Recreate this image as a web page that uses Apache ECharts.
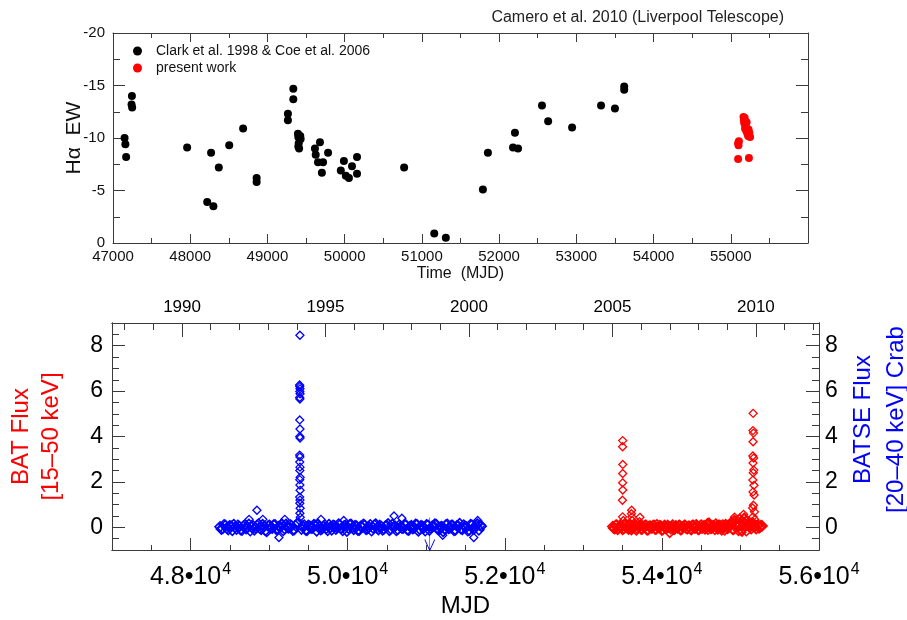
<!DOCTYPE html>
<html>
<head>
<meta charset="utf-8">
<title>Halpha EW and hard X-ray history</title>
<script src="https://cdn.jsdelivr.net/npm/echarts@6/dist/echarts.min.js"></script>
<style>
  html, body { margin: 0; padding: 0; background: #fff; }
  #chart { width: 907px; height: 620px; }
</style>
</head>
<body>
<div id="chart"></div>
<script>
// Top panel: H-alpha equivalent width (MJD, EW)
const clarkCoeEW = [
  [47150, -10.0], [47160, -9.4], [47170, -8.2], [47245, -14.0], [47240, -13.2], [47248, -12.9],
  [47960, -9.1], [48220, -3.9], [48270, -8.6], [48300, -3.5], [48370, -7.2], [48505, -9.3],
  [48685, -10.9], [48860, -6.2], [48860, -5.8],
  [49265, -12.3], [49265, -11.7], [49335, -14.7], [49335, -13.7],
  [49395, -10.4], [49400, -10.1], [49405, -9.5], [49400, -9.2], [49410, -9.0], [49425, -10.2], [49430, -9.9],
  [49615, -9.0], [49625, -8.4], [49655, -7.7], [49680, -9.6], [49705, -6.7], [49720, -7.7], [49785, -8.6],
  [49950, -6.9], [49990, -7.8], [50015, -6.4], [50055, -6.2], [50095, -7.3], [50160, -8.2], [50160, -6.6],
  [50770, -7.2], [51160, -0.9], [51310, -0.5],
  [51790, -5.1], [51855, -8.6], [52180, -9.1], [52205, -10.5], [52245, -9.0],
  [52555, -13.1], [52635, -11.6], [52945, -11.0], [53320, -13.1], [53500, -12.8], [53620, -14.9], [53620, -14.6]
];
const presentWorkEW = [
  [55095, -9.5], [55100, -9.3], [55105, -9.7], [55095, -8.0],
  [55165, -12.0], [55170, -11.7], [55175, -11.4], [55180, -11.9], [55185, -10.9], [55190, -11.2],
  [55195, -11.0], [55200, -10.7], [55205, -11.5], [55215, -10.4], [55225, -10.2], [55230, -10.8],
  [55240, -10.5], [55250, -10.1], [55235, -8.1]
];

// Bottom panel: BATSE 20-40 keV (MJD, Crab)
const batseMjd = [
  48375, 48410, 48445, 48480, 48515, 48550, 48585, 48620, 48655, 48690, 48725, 48760, 48795, 48830,
  48865, 48900, 48935, 48970, 49005, 49040, 49075, 49110, 49145, 49180, 49215, 49250, 49285, 49320,
  49355, 49430, 49465, 49500, 49535, 49570, 49605, 49640, 49675, 49710, 49745, 49780, 49815, 49850,
  49885, 49920, 49955, 49990, 50025, 50060, 50095, 50130, 50165, 50200, 50235, 50270, 50305, 50340,
  50375, 50410, 50445, 50480, 50515, 50550, 50585, 50620, 50655, 50690, 50725, 50760, 50795, 50830,
  50865, 50900, 50935, 50970, 51005, 51040, 51075, 51110, 51145, 51180, 51215, 51250, 51285, 51320,
  51355, 51390, 51425, 51460, 51495, 51530, 51565, 51600, 51635, 51670, 51700
];
const batseFlux = [
  0.02, -0.05, 0.08, -0.10, 0.05, 0.12, -0.08, 0.03, -0.12, 0.10, 0.00, -0.15, 0.07, -0.03,
  0.14, -0.09, 0.04, -0.18, 0.09, -0.04, 0.11, -0.07, 0.02, -0.14, 0.13, -0.02, 0.06, -0.10,
  0.15, 0.05, -0.11, 0.08, -0.04, 0.12, -0.16, 0.03, -0.06, 0.10, -0.13, 0.01, 0.09, -0.08,
  0.14, -0.05, 0.06, -0.17, 0.11, -0.01, 0.07, -0.12, 0.04, 0.13, -0.09, 0.02, -0.15, 0.10,
  -0.03, 0.08, -0.11, 0.05, 0.15, -0.07, 0.00, -0.14, 0.09, -0.04, 0.12, -0.10, 0.03, -0.06,
  0.13, -0.16, 0.07, -0.02, 0.11, -0.12, 0.04, 0.14, -0.08, 0.01, -0.18, 0.10, -0.05, 0.08,
  -0.13, 0.06, 0.16, -0.09, 0.03, -0.15, 0.12, -0.07, 0.09, -0.11, 0.05
];
const batseMjd2 = [
  48392, 48427, 48462, 48497, 48532, 48567, 48602, 48637, 48672, 48707, 48742, 48777, 48812, 48847,
  48882, 48917, 48952, 48987, 49022, 49057, 49092, 49127, 49162, 49197, 49232, 49267, 49302, 49337,
  49372, 49412, 49447, 49482, 49517, 49552, 49587, 49622, 49657, 49692, 49727, 49762, 49797, 49832,
  49867, 49902, 49937, 49972, 50007, 50042, 50077, 50112, 50147, 50182, 50217, 50252, 50287, 50322,
  50357, 50392, 50427, 50462, 50497, 50532, 50567, 50602, 50637, 50672, 50707, 50742, 50777, 50812,
  50847, 50882, 50917, 50952, 50987, 51022, 51057, 51092, 51127, 51162, 51197, 51232, 51267, 51302,
  51337, 51372, 51407, 51442, 51477, 51512, 51547, 51582, 51617, 51652, 51685
];
const batseFlux2 = [
  -0.08, 0.11, -0.03, 0.06, -0.13, 0.01, 0.09, -0.10, 0.05, -0.06,
  0.13, 0.02, -0.11, 0.08, -0.04, 0.12, -0.14, 0.06, -0.02, 0.10,
  -0.09, 0.04, 0.14, -0.06, 0.00, 0.11, -0.12, 0.07, 0.20, -0.08,
  0.10, -0.13, 0.05, -0.02, 0.09, 0.13, -0.10, 0.04, -0.05, 0.12,
  -0.11, 0.06, -0.01, 0.10, -0.14, 0.08, -0.03, 0.13, -0.09, 0.05,
  -0.12, 0.01, 0.09, -0.06, 0.11, -0.02, 0.14, -0.10, 0.03, -0.07,
  0.08, -0.13, 0.12, 0.05, -0.09, 0.02, -0.04, 0.10, -0.12, 0.07,
  -0.01, 0.11, -0.08, 0.04, -0.15, 0.09, -0.03, 0.06, 0.12, -0.10,
  0.03, -0.07, 0.13, -0.02, 0.08, -0.11, 0.05, -0.06, 0.10, 0.01,
  -0.12, 0.09, -0.04, 0.14, 0.10
];
const batseOutburst = [
  [49392, 8.46], [49388, 6.27], [49390, 6.20], [49393, 6.10], [49391, 5.98], [49394, 5.88], [49389, 5.72],
  [49392, 5.65], [49390, 4.73], [49393, 4.33], [49391, 4.00], [49394, 3.93], [49389, 3.18], [49392, 3.10],
  [49390, 2.88], [49393, 2.65], [49391, 2.50], [49395, 2.20], [49390, 2.10], [49392, 1.86], [49394, 1.63],
  [49389, 1.33], [49393, 1.20], [49391, 1.06], [49395, 0.84], [49392, 0.62], [49396, 0.44],
  [48745, 0.35], [48845, 0.75], [48920, 0.35], [49125, -0.45], [49200, 0.35], [49660, 0.35], [49950, 0.30],
  [50590, 0.50], [50690, 0.40], [51210, -0.35], [51605, -0.45], [51655, 0.30]
];
const batseUpperLimit = [[51045, -0.29]];

// Bottom panel: Swift/BAT 15-50 keV (MJD, Crab)
const batMjd = [
  53375, 53400, 53425, 53450, 53475, 53500, 53525, 53550, 53575, 53600, 53625, 53650, 53675, 53700,
  53725, 53750, 53775, 53800, 53825, 53850, 53875, 53900, 53925, 53950, 53975, 54000, 54025, 54050,
  54075, 54100, 54125, 54150, 54175, 54200, 54225, 54250, 54275, 54300, 54325, 54350, 54375, 54400,
  54425, 54450, 54475, 54500, 54525, 54550, 54575, 54600, 54625, 54650, 54675, 54700, 54725, 54750,
  54775, 54800, 54825, 54850, 54875, 54900, 54925, 54950, 54975, 55000, 55025, 55050, 55075, 55100,
  55125, 55150, 55175, 55200, 55225, 55250, 55275
];
const batFlux = [
  0.03, -0.06, 0.10, -0.02, 0.07, -0.09, 0.12, 0.02, -0.08, 0.09, -0.04, 0.06, -0.11, 0.04,
  0.10, -0.07, 0.02, 0.08, -0.10, 0.05, -0.03, 0.09, -0.08, 0.01, 0.07, -0.12, 0.04, -0.05,
  0.08, -0.22, 0.03, -0.07, 0.06, -0.02, 0.09, -0.09, 0.02, 0.07, -0.06, 0.04, -0.10, 0.08,
  -0.03, 0.05, -0.08, 0.10, 0.01, -0.07, 0.12, 0.18, -0.05, 0.06, -0.09, 0.03, 0.08, -0.04,
  0.10, -0.11, 0.05, 0.02, 0.15, -0.08, 0.30, 0.06, -0.13, 0.10, 0.25, 0.40, -0.15, 0.12,
  0.08, 0.20, 0.05, -0.06, 0.10, 0.02, 0.06
];
const batMjd2 = [
  53387, 53412, 53437, 53462, 53487, 53512, 53537, 53562, 53587, 53612, 53637, 53662, 53687, 53712,
  53737, 53762, 53787, 53812, 53837, 53862, 53887, 53912, 53937, 53962, 53987, 54012, 54037, 54062,
  54087, 54112, 54137, 54162, 54187, 54212, 54237, 54262, 54287, 54312, 54337, 54362, 54387, 54412,
  54437, 54462, 54487, 54512, 54537, 54562, 54587, 54612, 54637, 54662, 54687, 54712, 54737, 54762,
  54787, 54812, 54837, 54862, 54887, 54912, 54937, 54962, 54987, 55012, 55037, 55062, 55087, 55112,
  55137, 55162, 55187, 55212, 55237, 55262
];
const batFlux2 = [
  -0.04, 0.08, -0.09, 0.05, 0.01, -0.06, 0.10, -0.02, 0.07, -0.10,
  0.03, 0.12, -0.05, 0.06, -0.08, 0.02, 0.09, -0.11, 0.04, -0.03,
  0.07, -0.07, 0.11, -0.01, 0.05, -0.09, 0.08, -0.04, 0.02, -0.06,
  0.10, -0.08, 0.03, 0.06, -0.10, 0.01, 0.09, -0.05, 0.04, -0.07,
  0.08, -0.02, 0.11, -0.09, 0.05, -0.04, 0.07, 0.02, -0.08, 0.10,
  -0.03, 0.06, 0.14, -0.07, 0.09, -0.11, 0.04, 0.12, -0.05, 0.08,
  0.22, -0.09, 0.11, 0.05, 0.35, -0.12, 0.18, 0.07, 0.28, 0.10,
  -0.06, 0.15, 0.04, 0.09, -0.03, 0.07
];
const batOutburst = [
  [53501, 3.82], [53500, 3.55], [53502, 2.77], [53501, 2.37], [53500, 1.96], [53502, 1.64], [53498, 1.19],
  [53500, 0.46], [53510, 0.30], [53615, 0.75], [53612, 0.60], [53618, 0.45], [53620, 0.30],
  [53720, 0.44], [53715, 0.25], [54580, 0.20], [54925, 0.45], [54930, 0.30], [55020, -0.22],
  [55040, 0.57], [55045, 0.40], [55050, 0.25],
  [55162, 5.02], [55160, 4.26], [55166, 4.15], [55161, 3.77], [55158, 3.14], [55168, 3.05], [55160, 2.83],
  [55170, 2.52], [55163, 2.40], [55158, 2.08], [55172, 1.85], [55160, 1.56], [55174, 1.42], [55165, 0.97],
  [55155, 0.85], [55178, 0.68], [55160, 0.46], [55182, 0.34], [55168, 0.20]
];

// Axis tick positions
const mjdMajorTicks = [48000, 50000, 52000, 54000, 56000];
const fluxMajorTicks = [0, 2, 4, 6, 8];
const yearLabels = ['1990', '1995', '2000', '2005', '2010'];
const yearLabelMjd = [47892, 49718, 51544, 53371, 55197];
const yearTickMjd = [
  47161, 47527, 47892, 48257, 48622, 48988, 49353, 49718, 50083, 50449, 50814, 51179, 51544,
  51910, 52275, 52640, 53005, 53371, 53736, 54101, 54466, 54832, 55197, 55562, 55927
];

const FONT = 'Liberation Sans, Arial, sans-serif';
const AXIS_COLOR = '#3a3a3a';

const chart = echarts.init(document.getElementById('chart'));

function frameAxis(extra) {
  return Object.assign({
    type: 'value',
    nameMoveOverlap: false,
    axisLine: { show: true, onZero: false, lineStyle: { color: AXIS_COLOR, width: 1 } },
    axisTick: { show: true, inside: true, length: 9, lineStyle: { color: AXIS_COLOR } },
    axisLabel: { show: false },
    splitLine: { show: false }
  }, extra);
}

const openDiamond = (color, w) => ({ color: 'rgba(0,0,0,0)', borderColor: color, borderWidth: w, opacity: 1 });
const pairUp = (xs, ys) => xs.map((m, i) => [m, ys[i]]);

const option = {
  animation: false,
  backgroundColor: '#ffffff',
  textStyle: { fontFamily: FONT },
  title: {
    text: 'Camero et al. 2010 (Liverpool Telescope)',
    right: 118,
    top: 5,
    textStyle: { fontSize: 16, fontWeight: 'normal', color: '#222', fontFamily: FONT }
  },
  legend: {
    data: ['Clark et al. 1998 & Coe et al. 2006', 'present work'],
    orient: 'vertical',
    left: 128,
    top: 39,
    itemWidth: 9,
    itemHeight: 9,
    itemGap: 3,
    icon: 'circle',
    textStyle: { fontSize: 14, color: '#111', fontFamily: FONT, padding: [0, 0, 0, 9] }
  },
  grid: [
    { left: 113, top: 33, width: 695, height: 210, outerBoundsMode: 'none' },
    { left: 112, top: 323, width: 707, height: 227, outerBoundsMode: 'none' }
  ],
  xAxis: [
    frameAxis({
      gridIndex: 0, position: 'bottom', min: 47000, max: 56000, interval: 1000,
      axisTick: { show: true, inside: true, length: 9, lineStyle: { color: AXIS_COLOR } },
      minorTick: { show: true, splitNumber: 2, length: 5, lineStyle: { color: AXIS_COLOR } },
      axisLabel: { show: true, showMaxLabel: false, fontSize: 15, color: '#111', margin: 6, formatter: (v) => String(v) },
      name: 'Time  (MJD)', nameLocation: 'middle', nameGap: 23,
      nameTextStyle: { fontSize: 16, color: '#111' }
    }),
    frameAxis({
      gridIndex: 0, position: 'top', min: 47000, max: 56000, interval: 1000,
      minorTick: { show: true, splitNumber: 2, length: 5, lineStyle: { color: AXIS_COLOR } }
    }),
    frameAxis({
      gridIndex: 1, position: 'bottom', min: 47000, max: 56000,
      axisTick: { show: true, inside: true, length: 12, customValues: mjdMajorTicks, lineStyle: { color: AXIS_COLOR } },
      axisLabel: {
        show: true, margin: 12, customValues: mjdMajorTicks,
        formatter: (v) => '{m|' + (v / 10000).toFixed(1) + '•10}{e|4}',
        rich: {
          m: { fontSize: 25, color: '#000', fontFamily: FONT, verticalAlign: 'bottom' },
          e: { fontSize: 16, color: '#000', fontFamily: FONT, verticalAlign: 'top', padding: [0, 0, 12, 1] }
        }
      },
      name: 'MJD', nameLocation: 'middle', nameGap: 44,
      nameTextStyle: { fontSize: 24, color: '#000' }
    }),
    frameAxis({
      gridIndex: 1, position: 'bottom', min: 47000, max: 56000, interval: 500,
      axisTick: { show: true, inside: true, length: 5, lineStyle: { color: AXIS_COLOR } }
    }),
    frameAxis({
      gridIndex: 1, position: 'top', min: 47000, max: 56000,
      axisTick: { show: true, inside: true, length: 7, customValues: yearTickMjd, lineStyle: { color: AXIS_COLOR } }
    }),
    frameAxis({
      gridIndex: 1, position: 'top', min: 47000, max: 56000,
      axisTick: { show: true, inside: true, length: 14, customValues: yearLabelMjd, lineStyle: { color: AXIS_COLOR } },
      axisLabel: {
        show: true, margin: 7, fontSize: 17, color: '#000', customValues: yearLabelMjd,
        formatter: (v) => yearLabels[yearLabelMjd.indexOf(v)]
      }
    })
  ],
  yAxis: [
    frameAxis({
      gridIndex: 0, position: 'left', min: -20, max: 0, interval: 5, inverse: true,
      axisTick: { show: true, inside: true, length: 12, lineStyle: { color: AXIS_COLOR } },
      minorTick: { show: true, splitNumber: 2, length: 7, lineStyle: { color: AXIS_COLOR } },
      axisLabel: { show: true, fontSize: 15, color: '#111', margin: 8 },
      name: 'Hα  EW', nameLocation: 'middle', nameGap: 28, nameRotate: 90,
      nameTextStyle: { fontSize: 21, color: '#111' }
    }),
    frameAxis({
      gridIndex: 0, position: 'right', min: -20, max: 0, interval: 5, inverse: true,
      axisTick: { show: true, inside: true, length: 12, lineStyle: { color: AXIS_COLOR } },
      minorTick: { show: true, splitNumber: 2, length: 7, lineStyle: { color: AXIS_COLOR } }
    }),
    frameAxis({
      gridIndex: 1, position: 'left', min: -1, max: 9,
      axisTick: { show: true, inside: true, length: 13, customValues: fluxMajorTicks, lineStyle: { color: AXIS_COLOR } },
      axisLabel: { show: true, fontSize: 23, color: '#000', margin: 9, customValues: fluxMajorTicks },
      name: 'BAT Flux\n[15–50 keV]', nameLocation: 'middle', nameGap: 46, nameRotate: 90,
      nameTextStyle: { fontSize: 24, color: '#ff0000', lineHeight: 30 }
    }),
    frameAxis({
      gridIndex: 1, position: 'left', min: -1, max: 9, interval: 0.5,
      axisTick: { show: true, inside: true, length: 7, lineStyle: { color: AXIS_COLOR } }
    }),
    frameAxis({
      gridIndex: 1, position: 'right', min: -1, max: 9,
      axisTick: { show: true, inside: true, length: 13, customValues: fluxMajorTicks, lineStyle: { color: AXIS_COLOR } },
      axisLabel: { show: true, fontSize: 23, color: '#000', margin: 6, customValues: fluxMajorTicks },
      name: 'BATSE Flux\n[20–40 keV] Crab', nameLocation: 'middle', nameGap: 28, nameRotate: 90,
      nameTextStyle: { fontSize: 24, color: '#0000ff', lineHeight: 33, padding: [0, 0, 0, 34] }
    }),
    frameAxis({
      gridIndex: 1, position: 'right', min: -1, max: 9, interval: 0.5,
      axisTick: { show: true, inside: true, length: 7, lineStyle: { color: AXIS_COLOR } }
    })
  ],
  series: [
    {
      name: 'Clark et al. 1998 & Coe et al. 2006', type: 'scatter',
      xAxisIndex: 0, yAxisIndex: 0, symbol: 'circle', symbolSize: 8,
      itemStyle: { color: '#000', opacity: 1 }, data: clarkCoeEW
    },
    {
      name: 'present work', type: 'scatter',
      xAxisIndex: 0, yAxisIndex: 0, symbol: 'circle', symbolSize: 8,
      itemStyle: { color: '#ff0000', opacity: 1 }, data: presentWorkEW
    },
    {
      name: 'BATSE quiescence', type: 'scatter', xAxisIndex: 2, yAxisIndex: 4,
      symbol: 'diamond', symbolSize: 10, itemStyle: openDiamond('#0000ff', 1.6),
      data: pairUp(batseMjd, batseFlux).concat(pairUp(batseMjd2, batseFlux2))
    },
    {
      name: 'BATSE outburst', type: 'scatter', xAxisIndex: 2, yAxisIndex: 4,
      symbol: 'diamond', symbolSize: 8, itemStyle: openDiamond('#0000ff', 1.3),
      data: batseOutburst
    },
    {
      name: 'BATSE limit', type: 'scatter', xAxisIndex: 2, yAxisIndex: 4,
      symbol: 'path://M5,0 L5,33 M0,22 L5,33 L10,22', symbolSize: [10, 33],
      itemStyle: { color: 'rgba(0,0,0,0)', borderColor: '#0000ff', borderWidth: 1, opacity: 1 },
      data: batseUpperLimit
    },
    {
      name: 'BAT quiescence', type: 'scatter', xAxisIndex: 2, yAxisIndex: 2,
      symbol: 'diamond', symbolSize: 10, itemStyle: openDiamond('#ff0000', 1.6),
      data: pairUp(batMjd, batFlux).concat(pairUp(batMjd2, batFlux2))
    },
    {
      name: 'BAT outburst', type: 'scatter', xAxisIndex: 2, yAxisIndex: 2,
      symbol: 'diamond', symbolSize: 8, itemStyle: openDiamond('#ff0000', 1.3),
      data: batOutburst
    }
  ]
};

chart.setOption(option);
</script>
</body>
</html>
